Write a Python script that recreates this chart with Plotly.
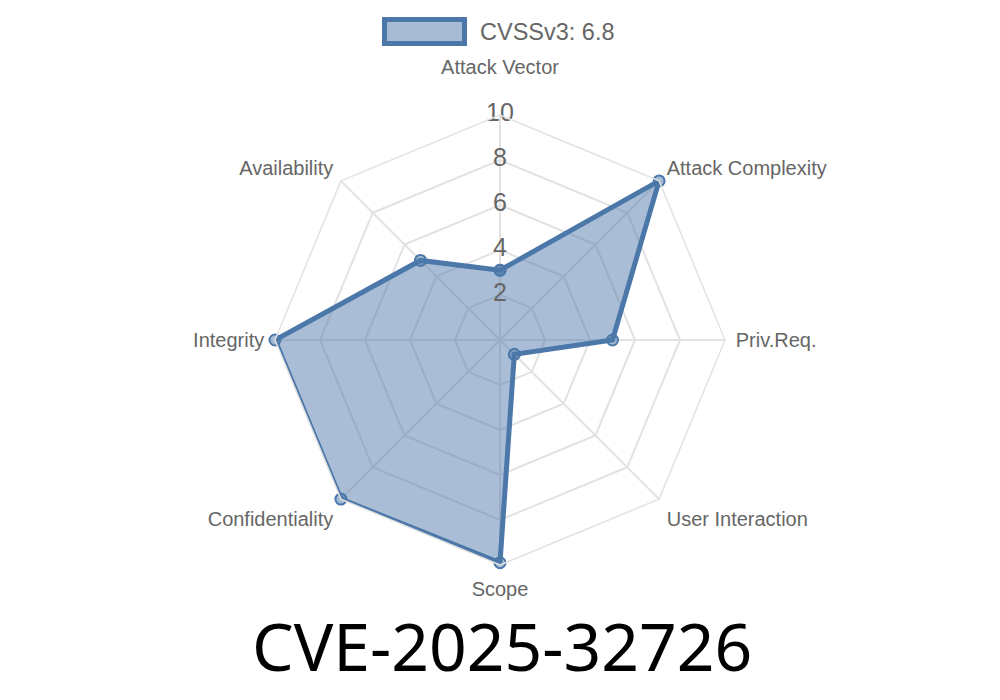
import plotly.graph_objects as go

categories = ["Attack Vector", "Attack Complexity", "Priv.Req.", "User Interaction",
              "Scope", "Confidentiality", "Integrity", "Availability"]
values = [3.1, 10.0, 5.0, 0.9, 9.9, 10.0, 10.0, 5.0]
series_name = "CVSSv3: 6.8"
title_text = "CVE-2025-32726"
radial_ticks = [2, 4, 6, 8, 10]

line_color = "#4b77a9"
fill_color = "rgba(75,119,169,0.48)"
grey = "#666666"
OFF = 8  # page body margin offset (px)
W, H = 1000, 700


def px(x):
    return (x - OFF) / W


def py(y):
    return 1 - (y - OFF) / H


cx, cy, R = 500, 340, 225

# the top label sits higher in the reference (room for the "10" tick)
tick_text = [categories[0] + "<br> "] + categories[1:]

fig = go.Figure()
fig.add_trace(go.Scatterpolar(
    r=values + [values[0]],
    theta=categories + [categories[0]],
    mode="lines+markers",
    fill="toself",
    fillcolor=fill_color,
    line=dict(color=line_color, width=5),
    marker=dict(size=11, color="rgba(75,119,169,0.5)", line=dict(color=line_color, width=2)),
    name=series_name,
    showlegend=False,
))
fig.add_trace(go.Scatterpolar(
    r=radial_ticks,
    theta=[categories[0]] * len(radial_ticks),
    mode="text",
    text=[str(t) for t in radial_ticks],
    textfont=dict(family="Liberation Sans, Arial, sans-serif", size=25, color=grey),
    textposition="middle center",
    showlegend=False,
    hoverinfo="skip",
    cliponaxis=False,
))

fig.update_layout(
    width=W, height=H,
    margin=dict(l=0, r=0, t=0, b=0),
    paper_bgcolor="white",
    font=dict(family="Liberation Sans, Arial, sans-serif", color=grey),
    polar=dict(
        domain=dict(x=[px(cx - R), px(cx + R)], y=[py(cy + R), py(cy - R)]),
        bgcolor="rgba(0,0,0,0)",
        gridshape="linear",
        angularaxis=dict(
            rotation=90, direction="clockwise",
            tickmode="array", tickvals=categories, ticktext=tick_text,
            tickfont=dict(size=20, color=grey),
            showline=True, linecolor="#e2e2e2", linewidth=1.5,
            gridcolor="#e2e2e2", gridwidth=1.5,
            ticks="outside", ticklen=6, tickcolor="rgba(0,0,0,0)",
        ),
        radialaxis=dict(
            range=[0, 10], tickvals=radial_ticks,
            showticklabels=False, ticks="",
            showline=False,
            gridcolor="#e2e2e2", gridwidth=1.5,
        ),
    ),
    shapes=[dict(
        type="rect", xref="paper", yref="paper",
        x0=px(384.5), x1=px(464.5), y0=py(43.5), y1=py(19.5),
        line=dict(color=line_color, width=5), fillcolor="#a7bbd4",
    )],
    annotations=[
        dict(text=series_name, xref="paper", yref="paper", x=px(478), y=py(32),
             xanchor="left", yanchor="middle", showarrow=False,
             font=dict(size=23.5, color=grey)),
        dict(text=title_text, xref="paper", yref="paper", x=px(502), y=py(645),
             xanchor="center", yanchor="middle", showarrow=False,
             font=dict(family="Noto Sans, Open Sans, sans-serif", size=66, color="black")),
    ],
)

fig.write_html("out.html")
